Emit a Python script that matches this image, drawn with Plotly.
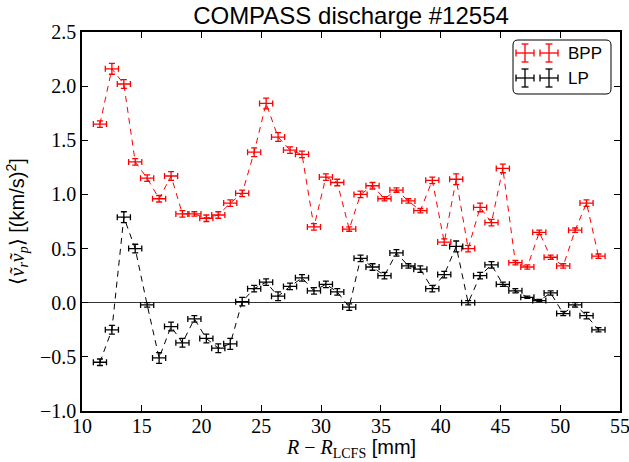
import plotly.graph_objects as go

# ---------------- data ----------------
r_mm = [11.5, 12.5, 13.5, 14.45, 15.45, 16.45, 17.45, 18.4, 19.4, 20.4, 21.4, 22.4,
        23.4, 24.4, 25.4, 26.4, 27.4, 28.4, 29.4, 30.4, 31.35, 32.35, 33.3, 34.3,
        35.3, 36.3, 37.3, 38.3, 39.3, 40.3, 41.3, 42.3, 43.3, 44.25, 45.2, 46.25,
        47.25, 48.25, 49.2, 50.25, 51.25, 52.2, 53.2]

bpp = [1.65, 2.16, 2.02, 1.30, 1.15, 0.96, 1.17, 0.82, 0.82, 0.78, 0.81, 0.92,
       1.01, 1.39, 1.84, 1.53, 1.41, 1.37, 0.70, 1.16, 1.11, 0.68, 1.00, 1.08,
       0.96, 1.04, 0.94, 0.85, 1.13, 0.56, 1.14, 0.50, 0.88, 0.74, 1.24, 0.37,
       0.33, 0.65, 0.42, 0.34, 0.67, 0.92, 0.43]
bpp_err = [0.03, 0.05, 0.04, 0.03, 0.03, 0.03, 0.04, 0.03, 0.02, 0.03, 0.03, 0.03,
           0.03, 0.04, 0.05, 0.04, 0.03, 0.03, 0.03, 0.03, 0.03, 0.02, 0.03, 0.03,
           0.02, 0.02, 0.02, 0.02, 0.03, 0.03, 0.05, 0.03, 0.04, 0.03, 0.04, 0.02,
           0.02, 0.02, 0.02, 0.02, 0.02, 0.03, 0.02]

lp = [-0.55, -0.25, 0.79, 0.50, -0.02, -0.51, -0.22, -0.37, -0.15, -0.33, -0.42, -0.38,
      0.01, 0.13, 0.19, 0.06, 0.15, 0.23, 0.11, 0.17, 0.10, -0.04, 0.41, 0.33,
      0.25, 0.46, 0.34, 0.31, 0.13, 0.26, 0.52, 0.00, 0.25, 0.35, 0.17, 0.11,
      0.05, 0.02, 0.09, -0.10, -0.02, -0.12, -0.25]
lp_err = [0.03, 0.04, 0.05, 0.04, 0.02, 0.05, 0.04, 0.04, 0.03, 0.04, 0.04, 0.05,
          0.04, 0.03, 0.03, 0.04, 0.03, 0.03, 0.03, 0.03, 0.03, 0.03, 0.03, 0.03,
          0.03, 0.03, 0.02, 0.03, 0.03, 0.03, 0.05, 0.02, 0.03, 0.03, 0.02, 0.02,
          0.01, 0.01, 0.02, 0.02, 0.02, 0.03, 0.02]

r_err = [0.55] * len(r_mm)

series_names = ["BPP", "LP"]
series_colors = ["#ff0000", "#000000"]

x_ticks = [10, 15, 20, 25, 30, 35, 40, 45, 50, 55]
y_ticks = [-1.0, -0.5, 0.0, 0.5, 1.0, 1.5, 2.0, 2.5]

title_text = "COMPASS discharge #12554"
SERIF = "Liberation Serif"
SANS = "Liberation Sans"
x_title = (f'<span style="font-family:{SERIF}"><i>R</i> − '
           f'<i>R</i><sub>LCFS</sub></span> [mm]')
y_title = (f'<span style="font-family:{SERIF}">⟨<i>ṽ</i><sub><i>r</i></sub>'
           f'<i>ṽ</i><sub><i>p</i></sub>⟩</span> [(km/s)<sup>2</sup>]')

# ---------------- layout constants ----------------
W, H = 629, 462
ML, MR, MT, MB = 82, 9, 32, 51
PW, PH = W - ML - MR, H - MT - MB

fig = go.Figure()
for name, ys, errs, col in [("BPP", bpp, bpp_err, series_colors[0]),
                            ("LP", lp, lp_err, series_colors[1])]:
    fig.add_trace(go.Scatter(
        x=r_mm, y=ys, mode="lines", name=name,
        line=dict(color=col, width=1, dash="6px,5px"),
        error_y=dict(type="data", array=errs, color=col, thickness=1.3, width=3),
        error_x=dict(type="data", array=r_err, color=col, thickness=1.3, width=3),
        showlegend=False,
    ))


# ---------------- custom legend (matplotlib style, two error-bar symbols) ----------------
def px2paper(px, py):
    return (px - ML) / PW, (H - MB - py) / PH


def seg(x0, y0, x1, y1, col, w=1.3):
    a, b = px2paper(x0, y0)
    c, d = px2paper(x1, y1)
    return dict(type="line", xref="paper", yref="paper", x0=a, y0=b, x1=c, y1=d,
                line=dict(color=col, width=w))


def cross(cx, cy, col, s=9, cap=3.5):
    return [
        seg(cx - s, cy, cx + s, cy, col),
        seg(cx, cy - s, cx, cy + s, col),
        seg(cx - s, cy - cap, cx - s, cy + cap, col),
        seg(cx + s, cy - cap, cx + s, cy + cap, col),
        seg(cx - cap, cy - s, cx + cap, cy - s, col),
        seg(cx - cap, cy + s, cx + cap, cy + s, col),
    ]


def P(px, py):
    a, b = px2paper(px, py)
    return f"{a:.5f},{b:.5f}"


shapes = []
bx0, by0, bx1, by1, rr = 513, 40, 611, 94, 5
path = (f"M {P(bx0 + rr, by0)} L {P(bx1 - rr, by0)} Q {P(bx1, by0)} {P(bx1, by0 + rr)} "
        f"L {P(bx1, by1 - rr)} Q {P(bx1, by1)} {P(bx1 - rr, by1)} "
        f"L {P(bx0 + rr, by1)} Q {P(bx0, by1)} {P(bx0, by1 - rr)} "
        f"L {P(bx0, by0 + rr)} Q {P(bx0, by0)} {P(bx0 + rr, by0)} Z")
shapes.append(dict(type="path", xref="paper", yref="paper", path=path,
                   line=dict(color="black", width=1), fillcolor="white"))

annotations = []
for i, (name, col) in enumerate(zip(series_names, series_colors)):
    cy = 53 + i * 25
    for cx in (525, 549):
        shapes.extend(cross(cx, cy, col))
    ax, ay = px2paper(566, cy)
    annotations.append(dict(x=ax, y=ay, xref="paper", yref="paper", text=name,
                            showarrow=False, xanchor="left", yanchor="middle",
                            font=dict(family=SANS, size=17, color="black")))

for s in shapes:
    s["layer"] = "above"

# axis titles as annotations (precise placement)
ax_, ay_ = px2paper(351, 448)
annotations.append(dict(x=0.5, y=ay_, xref="paper", yref="paper", text=x_title,
                        showarrow=False, xanchor="center", yanchor="middle",
                        font=dict(family=SANS, size=20, color="black")))
ax_, ay_ = px2paper(17, 222)
annotations.append(dict(x=ax_, y=0.5, xref="paper", yref="paper", text=y_title,
                        showarrow=False, xanchor="center", yanchor="middle", textangle=-90,
                        font=dict(family=SANS, size=20, color="black")))

fig.update_layout(
    width=W, height=H,
    margin=dict(l=ML, r=MR, t=MT, b=MB, autoexpand=False),
    paper_bgcolor="white", plot_bgcolor="white",
    title=dict(text=title_text, x=0.5, xref="paper",
               y=1 - 16 / H, yref="container", yanchor="middle",
               font=dict(family=SANS, size=24, color="black")),
    xaxis=dict(range=[10, 55], tickvals=x_ticks, ticks="inside", ticklen=6,
               tickwidth=1, tickcolor="black", mirror="ticks", showline=True,
               linecolor="black", linewidth=1.5, showgrid=False, zeroline=False,
               automargin=False, ticklabeloverflow="allow", ticklabelstandoff=-4,
               tickfont=dict(family=SERIF, size=20, color="black")),
    yaxis=dict(range=[-1, 2.5], tickvals=y_ticks, tickformat=".1f", ticks="inside",
               ticklen=6, tickwidth=1, tickcolor="black", mirror="ticks", showline=True,
               linecolor="black", linewidth=1.5, showgrid=False,
               zeroline=True, zerolinecolor="#333333", zerolinewidth=1.2,
               automargin=False, ticklabeloverflow="allow",
               tickfont=dict(family=SERIF, size=20, color="black")),
    shapes=shapes,
    annotations=annotations,
)

fig.write_html("out.html", config={"displayModeBar": False},
               post_script="document.body.style.margin='0';document.body.style.padding='0';")
